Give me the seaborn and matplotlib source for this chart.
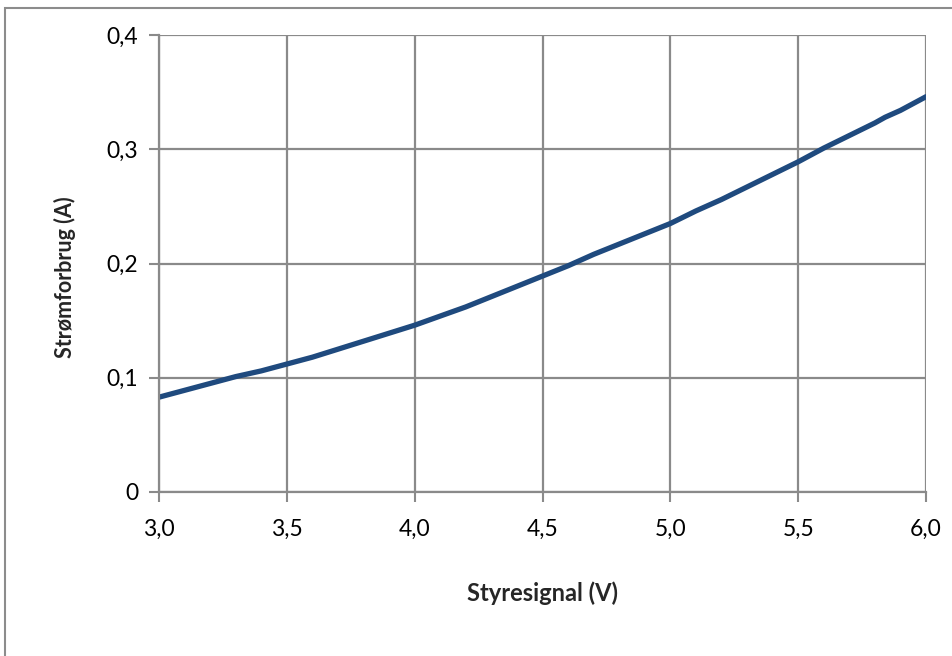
import matplotlib
matplotlib.use("Agg")
import matplotlib.pyplot as plt
import seaborn as sns
import pandas as pd
from matplotlib.patches import Rectangle

# Control signal (V) and measured current draw (A)
styresignal = [3.0, 3.1, 3.2, 3.3, 3.4, 3.5, 3.6, 3.7, 3.8, 3.9,
               4.0, 4.1, 4.2, 4.3, 4.4, 4.5, 4.6, 4.7, 4.8, 4.9,
               5.0, 5.1, 5.2, 5.3, 5.4, 5.5, 5.6, 5.7, 5.8, 5.84, 5.9, 6.0]
stroemforbrug = [0.083, 0.089, 0.095, 0.101, 0.106, 0.112, 0.118, 0.125, 0.132, 0.139,
                 0.146, 0.154, 0.162, 0.171, 0.180, 0.189, 0.198, 0.208, 0.217, 0.226,
                 0.235, 0.246, 0.256, 0.267, 0.278, 0.289, 0.301, 0.312, 0.323, 0.328, 0.334, 0.346]

x_ticks = [3.0, 3.5, 4.0, 4.5, 5.0, 5.5, 6.0]
x_tick_labels = ["3,0", "3,5", "4,0", "4,5", "5,0", "5,5", "6,0"]
y_ticks = [0, 0.1, 0.2, 0.3, 0.4]
y_tick_labels = ["0", "0,1", "0,2", "0,3", "0,4"]

df = pd.DataFrame({"Styresignal": styresignal, "Strømforbrug": stroemforbrug})

sns.set_theme(style="white")
plt.rcParams["font.family"] = ["Lato", "DejaVu Sans"]

grid_col = "#8a8a8a"
fig = plt.figure(figsize=(9.52, 6.56), dpi=100)
ax = fig.add_axes([159 / 952, 1 - 492 / 656, (926 - 159) / 952, (492 - 35) / 656])

sns.lineplot(data=df, x="Styresignal", y="Strømforbrug", ax=ax,
             color="#1f4a7e", linewidth=3.8, solid_capstyle="round")

ax.set_xlim(3.0, 6.0)
ax.set_ylim(0, 0.4)
ax.set_xticks(x_ticks)
ax.set_xticklabels(x_tick_labels)
ax.set_yticks(y_ticks)
ax.set_yticklabels(y_tick_labels)

ax.grid(True, color=grid_col, linewidth=1.6)
ax.set_axisbelow(True)
for side in ["top", "right"]:
    ax.spines[side].set_visible(False)
for side in ["left", "bottom"]:
    ax.spines[side].set_color(grid_col)
    ax.spines[side].set_linewidth(1.6)

ax.tick_params(axis="both", which="major", direction="out", length=7, width=1.5,
               color=grid_col, labelsize=16.5, labelcolor="black",
               bottom=True, left=True)
ax.tick_params(axis="x", pad=12)
ax.tick_params(axis="y", pad=8)

ax.set_xlabel("Styresignal (V)", fontsize=17, fontweight="bold", labelpad=30)
ax.set_ylabel("Strømforbrug (A)", fontsize=15.5, fontweight="bold", labelpad=22)
ax.yaxis.label.set_y(0.47)

# Chart-area frame, open to the right and bottom
fig.patches.append(Rectangle((5 / 952, -0.1), 1.2, 1 - 8 / 656 + 0.1,
                             transform=fig.transFigure, fill=False,
                             edgecolor="#8c8c8c", linewidth=1.5))

fig.savefig("out.png", dpi=100)
